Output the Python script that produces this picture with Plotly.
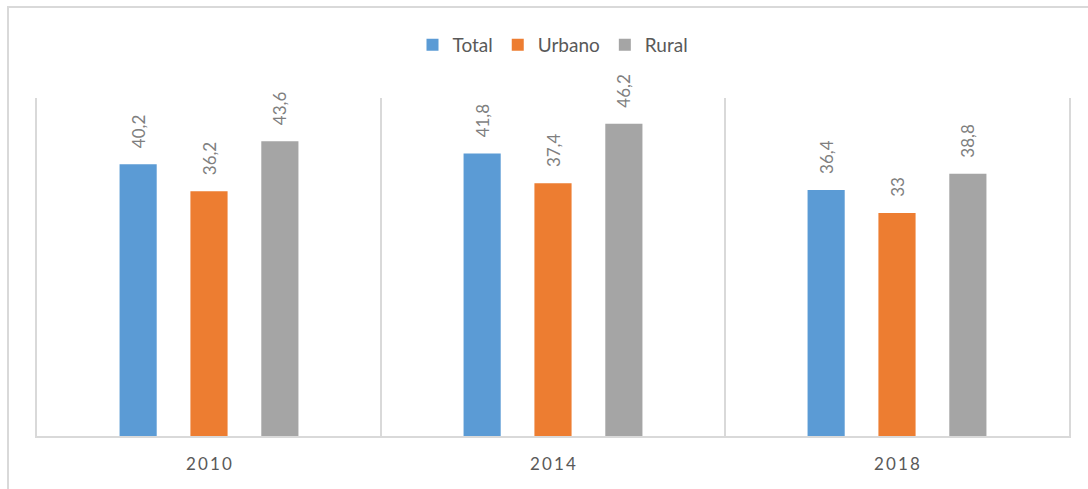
import plotly.graph_objects as go

years = ["2010", "2014", "2018"]
total = [40.2, 41.8, 36.4]
urbano = [36.2, 37.4, 33.0]
rural = [43.6, 46.2, 38.8]

series = [("Total", total, "#5b9bd5"), ("Urbano", urbano, "#ed7d31"), ("Rural", rural, "#a5a5a5")]

def fmt(v):
    s = ("%.1f" % v).replace(".", ",")
    if s.endswith(",0"):
        s = s[:-2]
    return s

W = 0.108
offsets = [-0.206 - W / 2, -W / 2, 0.206 - W / 2]
xpos = list(range(len(years)))
spaced_years = ["\u2009".join(y) for y in years]

fig = go.Figure()
for (name, vals, col), off in zip(series, offsets):
    fig.add_trace(go.Bar(
        x=xpos, y=vals, name=name, marker=dict(color=col, line=dict(width=0)),
        width=W, offset=off,
        text=["\u00a0\u00a0\u00a0" + fmt(v) for v in vals], textposition="outside", textangle=-90,
        textfont=dict(family="Lato, sans-serif", size=17, color="#7f7f7f"),
        constraintext="none", cliponaxis=False,
    ))

fig.update_layout(
    width=1088, height=489,
    margin=dict(l=37, r=19, t=98, b=53),
    paper_bgcolor="white", plot_bgcolor="white",
    barmode="group",
    font=dict(family="Lato, sans-serif", color="#595959"),
    legend=dict(orientation="h", x=0.5, xanchor="center", y=0.908, yref="container", yanchor="middle",
                font=dict(size=19, color="#595959"), itemwidth=30, traceorder="normal"),
    xaxis=dict(range=[-0.5, 2.5], tickvals=xpos, ticktext=spaced_years, showgrid=False,
               showline=True, linecolor="#d9d9d9", linewidth=2, ticks="",
               tickfont=dict(size=17, color="#595959"), ticklabelstandoff=12,
               minor=dict(tickvals=[0.5, 1.5], showgrid=True, gridcolor="#d9d9d9", gridwidth=2),
               zeroline=False, fixedrange=True),
    yaxis=dict(range=[0, 50], showgrid=False, showticklabels=False, ticks="",
               showline=True, mirror=True, linecolor="#d9d9d9", linewidth=2, zeroline=False),
    shapes=[dict(type="rect", xref="paper", yref="paper", x0=-0.0281, x1=1.2, y0=-0.3, y1=1.269,
                 line=dict(color="#d9d9d9", width=2), layer="below")],
)

fig.write_html("out.html", config={"displayModeBar": False},
               post_script="document.body.style.margin='0';document.body.style.overflow='hidden';")
